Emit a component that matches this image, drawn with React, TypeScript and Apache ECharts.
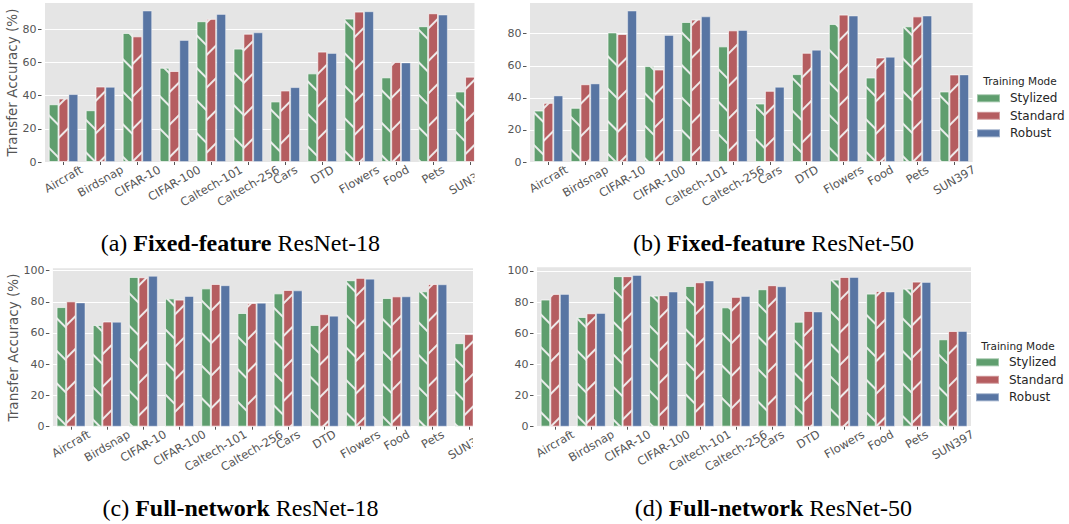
import React, { useEffect, useRef } from "react";
import * as echarts from "echarts";

// Transfer datasets on the x axis of every panel
const datasets = [
  "Aircraft", "Birdsnap", "CIFAR-10", "CIFAR-100", "Caltech-101", "Caltech-256",
  "Cars", "DTD", "Flowers", "Food", "Pets", "SUN397",
];
const modes = ["Stylized", "Standard", "Robust"];

// (a) Fixed-feature ResNet-18
const fixed18Stylized = [34.8, 31.2, 77.7, 56.8, 84.8, 68.3, 36.5, 53.4, 86.4, 51.0, 81.8, 42.5];
const fixed18Standard = [38.3, 45.5, 75.7, 54.8, 86.2, 77.3, 43.1, 66.5, 90.6, 60.2, 89.6, 51.4];
const fixed18Robust = [40.9, 45.3, 91.2, 73.5, 89.2, 78.1, 45.1, 65.7, 90.8, 60.0, 88.8, 52.0];

// (b) Fixed-feature ResNet-50
const fixed50Stylized = [32.1, 33.8, 80.8, 59.8, 87.3, 72.1, 36.5, 54.8, 86.0, 52.7, 84.6, 44.0];
const fixed50Standard = [36.9, 48.5, 79.8, 57.7, 88.8, 82.1, 44.4, 68.1, 91.9, 65.2, 90.8, 54.6];
const fixed50Robust = [41.5, 49.0, 94.4, 79.2, 90.8, 82.3, 46.9, 70.0, 91.3, 65.6, 91.3, 54.6];

// (c) Full-network ResNet-18
const full18Stylized = [76.6, 65.1, 95.9, 82.2, 88.6, 72.8, 85.4, 65.1, 93.8, 82.4, 86.7, 53.5];
const full18Standard = [80.3, 67.4, 95.7, 81.4, 91.4, 79.2, 87.6, 72.1, 95.3, 83.5, 91.4, 59.3];
const full18Robust = [79.6, 67.2, 96.6, 83.7, 90.6, 79.4, 87.3, 71.1, 94.8, 83.5, 91.2, 59.5];

// (d) Full-network ResNet-50
const full50Stylized = [81.6, 70.4, 96.6, 84.1, 90.3, 76.6, 88.2, 67.4, 94.4, 85.4, 88.6, 56.1];
const full50Standard = [85.2, 72.8, 96.6, 84.4, 92.7, 83.3, 90.8, 74.3, 96.1, 87.1, 93.1, 61.4];
const full50Robust = [85.2, 73.0, 97.4, 86.7, 93.8, 83.9, 90.1, 73.9, 96.1, 86.7, 92.9, 61.4];

const yTicksFixed = [0, 20, 40, 60, 80];
const yTicksFull = [0, 20, 40, 60, 80, 100];

const captions = [
  ["(a) ", "Fixed-feature", " ResNet-18"],
  ["(b) ", "Fixed-feature", " ResNet-50"],
  ["(c) ", "Full-network", " ResNet-18"],
  ["(d) ", "Full-network", " ResNet-50"],
];

const FONT = '"DejaVu Sans", sans-serif';
const SERIF = '"Liberation Serif", "Times New Roman", serif';
const COLORS = ["#5F9E6E", "#B55D60", "#5875A3"];
const TICK_COLOR = "#555555";
const TEXT_DARK = "#262626";
const X_FONT = 11.5;

const hatch = (rotation: number) => ({
  symbol: "rect",
  symbolSize: 1,
  dashArrayX: [1, 0],
  dashArrayY: [2, 21],
  rotation,
  color: "rgba(240,240,240,0.95)",
});

// Measure label width so rotated labels can be centred under their ticks
let measureCtx: CanvasRenderingContext2D | null = null;
function textWidth(text: string, size: number) {
  if (!measureCtx) measureCtx = document.createElement("canvas").getContext("2d");
  measureCtx!.font = `${size}px "DejaVu Sans"`;
  return measureCtx!.measureText(text).width;
}

// Each rotated label is centre-anchored on its tick; an empty line above it and
// an empty spacer after it push the word straight down so the top of its
// rotated box sits just under the axis.
function labelRich() {
  const rich: Record<string, any> = {
    t: { fontSize: X_FONT, fontFamily: FONT, color: TICK_COLOR },
  };
  datasets.forEach((name, i) => {
    const d = 5.5 + 0.25 * textWidth(name, X_FONT);
    const h = d * Math.sqrt(3);
    rich["h" + i] = { height: h, lineHeight: h, fontSize: 1 };
    rich["w" + i] = { width: d, fontSize: 1 };
  });
  return rich;
}

const panels = [
  { values: [fixed18Stylized, fixed18Standard, fixed18Robust], ticks: yTicksFixed, left: 45, top: 3, width: 443.5, bottom: 162, yName: "Transfer Accuracy (%)", nameGap: 18.75, caption: 0, cx: 240.4, cy: 243 },
  { values: [fixed50Stylized, fixed50Standard, fixed50Robust], ticks: yTicksFixed, left: 530, top: 3, width: 442.7, bottom: 162, yName: "", nameGap: 0, caption: 1, cx: 773.5, cy: 243 },
  { values: [full18Stylized, full18Standard, full18Robust], ticks: yTicksFull, left: 52.9, top: 268.3, width: 434.1, bottom: 426.7, yName: "Transfer Accuracy (%)", nameGap: 26.6, caption: 2, cx: 240.5, cy: 508 },
  { values: [full50Stylized, full50Standard, full50Robust], ticks: yTicksFull, left: 537, top: 267.3, width: 434, bottom: 426.7, yName: "", nameGap: 0, caption: 3, cx: 773.3, cy: 508 },
];

function buildOption() {
  const rich = labelRich();

  const grid = panels.map((p) => ({
    left: p.left,
    top: p.top,
    width: p.width,
    height: p.bottom - p.top,
    containLabel: false,
    outerBoundsMode: "none",
    show: true,
    backgroundColor: "#E5E5E5",
    borderWidth: 0,
  }));

  const xAxis = panels.map((_, i) => ({
    type: "category",
    gridIndex: i,
    data: datasets,
    offset: 1,
    axisLine: { show: false },
    axisTick: { show: true, alignWithLabel: true, length: 3, lineStyle: { color: TICK_COLOR, width: 1 } },
    axisLabel: {
      interval: 0,
      rotate: 30,
      align: "center",
      verticalAlign: "middle",
      margin: 0,
      fontSize: X_FONT,
      fontFamily: FONT,
      color: TICK_COLOR,
      hideOverlap: false,
      formatter: (value: string, index: number) => `{h${index}| }\n{t|${value}}{w${index}| }`,
      rich,
    },
    splitLine: { show: false },
  }));

  const yAxis = panels.map((p, i) => {
    const max = Math.max(...p.values.flat()) * 1.05;
    return {
      type: "value",
      gridIndex: i,
      min: 0,
      max,
      interval: 20,
      offset: 3.5,
      name: p.yName,
      nameLocation: "middle",
      nameGap: p.nameGap,
      nameTextStyle: { fontSize: 13.5, fontFamily: FONT, color: TICK_COLOR },
      axisLine: { show: false },
      axisTick: { show: true, length: 3.5, customValues: p.ticks, lineStyle: { color: TICK_COLOR, width: 1 } },
      axisLabel: { customValues: p.ticks, margin: 5, fontSize: 11, fontFamily: FONT, color: TICK_COLOR },
      splitLine: { show: true, lineStyle: { color: "#FFFFFF", width: 1 } },
    };
  });

  const series = panels.flatMap((p, pi) =>
    p.values.map((vals, si) => ({
      type: "bar",
      name: modes[si],
      xAxisIndex: pi,
      yAxisIndex: pi,
      data: vals,
      barGap: "0%",
      barCategoryGap: "20%",
      itemStyle: {
        color: COLORS[si],
        borderColor: "rgba(255,255,255,0.4)",
        borderWidth: 1,
        ...(si === 0 ? { decal: hatch(Math.PI / 4) } : si === 1 ? { decal: hatch(-Math.PI / 4) } : {}),
      },
    }))
  );

  const legendBase = {
    data: modes,
    orient: "vertical",
    icon: "rect",
    itemWidth: 23,
    itemHeight: 8,
    itemGap: 5.5,
    selectedMode: false,
    padding: 0,
    itemStyle: { decal: "none" },
    textStyle: { fontSize: 12, fontFamily: FONT, color: TEXT_DARK, padding: [0, 0, 0, 5] },
  };
  const legend = [
    { ...legendBase, left: 976, top: 92.3 },
    { ...legendBase, left: 975, top: 356.3 },
  ];

  const graphic: any[] = [];
  // white masks trim the right-hand edge of the ResNet-18 panels
  graphic.push({ type: "rect", z: 100, shape: { x: 474.5, y: 0, width: 31, height: 222 }, style: { fill: "#FFFFFF" } });
  graphic.push({ type: "rect", z: 100, shape: { x: 473, y: 262, width: 33, height: 228 }, style: { fill: "#FFFFFF" } });

  [[1020, 81], [1018, 345.7]].forEach(([x, y]) => {
    graphic.push({
      type: "text",
      z: 101,
      x,
      y,
      style: {
        text: "Training Mode",
        fontSize: 10.5,
        fontFamily: FONT,
        fill: TEXT_DARK,
        align: "center",
        textAlign: "center",
        verticalAlign: "middle",
        textVerticalAlign: "middle",
      },
    });
  });

  panels.forEach((p) => {
    const [a, b, c] = captions[p.caption];
    graphic.push({
      type: "text",
      z: 101,
      x: p.cx,
      y: p.cy,
      style: {
        text: `{n|${a}}{b|${b}}{n|${c}}`,
        align: "center",
        textAlign: "center",
        verticalAlign: "middle",
        textVerticalAlign: "middle",
        rich: {
          n: { fontSize: 24, fontFamily: SERIF, fill: "#000000" },
          b: { fontSize: 24, fontFamily: SERIF, fontWeight: "bold", fill: "#000000" },
        },
      },
    });
  });

  return {
    animation: false,
    backgroundColor: "#FFFFFF",
    textStyle: { fontFamily: FONT },
    grid,
    xAxis,
    yAxis,
    legend,
    series,
    graphic,
  };
}

export default function App() {
  const ref = useRef<HTMLDivElement>(null);
  useEffect(() => {
    if (!ref.current) return;
    const chart = echarts.init(ref.current, undefined, { renderer: "svg" });
    chart.setOption(buildOption() as any);
    return () => chart.dispose();
  }, []);
  return (
    <div
      ref={ref}
      style={{ position: "absolute", left: 0, top: 0, width: 1069, height: 524, background: "#fff" }}
    />
  );
}
